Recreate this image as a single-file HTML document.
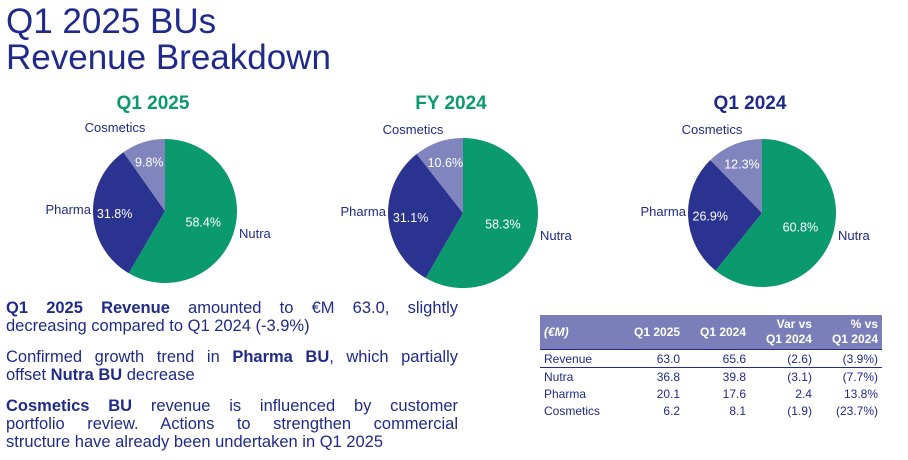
<!DOCTYPE html>
<html><head><meta charset="utf-8"><style>
body{margin:0;width:908px;height:460px;background:#fff;overflow:hidden;font-family:"Liberation Sans","DejaVu Sans",sans-serif;color:#1f2a8c;position:relative}
h1{position:absolute;left:6px;top:4px;margin:0;font-weight:normal;font-size:35px;line-height:36px;color:#1f2a8c}
.p{position:absolute;left:6px;width:452px;font-size:16.5px;line-height:18px;color:#1f2a8c}
.p div{text-align:justify;text-align-last:justify}
.p div:last-child{text-align-last:left}
table{position:absolute;left:540px;top:315px;width:342px;border-collapse:collapse;font-size:12px;color:#1f2a8c}
th{background:#7b7fb9;color:#fff;font-weight:bold;height:34px;text-align:right;padding:0 4px;line-height:15px}
td{text-align:right;padding:0 4px;height:17px}
td:first-child,th:first-child{text-align:left}
</style></head><body>
<h1>Q1 2025 BUs<br>Revenue Breakdown</h1>
<svg id="charts" width="908" height="300" style="position:absolute;left:0;top:0"></svg>
<div class="p" style="top:299px"><div><b>Q1 2025 Revenue</b> amounted to €M 63.0, slightly</div><div>decreasing compared to Q1 2024 (-3.9%)</div></div>
<div class="p" style="top:348px"><div>Confirmed growth trend in <b>Pharma BU</b>, which partially</div><div>offset <b>Nutra BU</b> decrease</div></div>
<div class="p" style="top:397px"><div><b>Cosmetics BU</b> revenue is influenced by customer</div><div>portfolio review. Actions to strengthen commercial</div><div>structure have already been undertaken in Q1 2025</div></div>
<table>
<tr><th style="font-style:italic">(€M)</th><th>Q1 2025</th><th>Q1 2024</th><th>Var vs<br>Q1 2024</th><th>% vs<br>Q1 2024</th></tr>
<tr style="border-top:1px solid #1f2a8c;border-bottom:1px solid #1f2a8c"><td>Revenue</td><td>63.0</td><td>65.6</td><td>(2.6)</td><td>(3.9%)</td></tr>
<tr><td>Nutra</td><td>36.8</td><td>39.8</td><td>(3.1)</td><td>(7.7%)</td></tr>
<tr><td>Pharma</td><td>20.1</td><td>17.6</td><td>2.4</td><td>13.8%</td></tr>
<tr><td>Cosmetics</td><td>6.2</td><td>8.1</td><td>(1.9)</td><td>(23.7%)</td></tr>
</table>
<script>
const titles=["Q1 2025","FY 2024","Q1 2024"];
const segments=["Nutra","Pharma","Cosmetics"];
const nutra=[58.4,58.3,60.8];
const pharma=[31.8,31.1,26.9];
const cosmetics=[9.8,10.6,12.3];
const svg=document.getElementById('charts');
const NS='http://www.w3.org/2000/svg';
const colors=["#0a9a6e","#2b3390","#8085bd"];
const cxs=[165,463,762],cys=[211,213,213],rs=[72,75,74],titleCol=["#0a9a6e","#0a9a6e","#1f2a8c"];
function el(t,a,txt){const e=document.createElementNS(NS,t);for(const k in a)e.setAttribute(k,a[k]);if(txt!=null)e.textContent=txt;svg.appendChild(e);return e;}
titles.forEach((tt,i)=>{
 const cx=cxs[i],cy=cys[i],r=rs[i];
 const tl=el('text',{x:cx-12,y:109,'text-anchor':'middle','font-size':19,'font-weight':'bold',fill:titleCol[i]},tt);
 
 
 const vals=[nutra[i],pharma[i],cosmetics[i]];
 const tot=vals.reduce((a,b)=>a+b,0);
 let a0=0;
 vals.forEach((v,j)=>{
  const a1=a0+v/tot*2*Math.PI;
  const p=(a)=>[cx+r*Math.sin(a),cy-r*Math.cos(a)];
  const [x0,y0]=p(a0),[x1,y1]=p(a1);
  const s=el('path',{d:`M${cx},${cy}L${x0},${y0}A${r},${r} 0 ${a1-a0>Math.PI?1:0} 1 ${x1},${y1}Z`,fill:colors[j]});
  
  
  const am=(a0+a1)/2,lr=j==0?0.55:(j==1?0.7:0.72);
  const lx=cx+r*lr*Math.sin(am),ly=cy-r*lr*Math.cos(am)+5;
  const pl=el('text',{x:lx,y:ly,'text-anchor':'middle','font-size':12.5,fill:'#fff'},v.toFixed(1)+'%');
  
  
  a0=a1;
 });
 const n=el('text',{x:cx+r+2,y:cy+27,'font-size':13,fill:'#1f2a8c'},'Nutra');
 
 
 const ph=el('text',{x:cx-r-2,y:cy+3,'text-anchor':'end','font-size':13,fill:'#1f2a8c'},'Pharma');
 
 
 const c=el('text',{x:cx-50,y:cy-79,'text-anchor':'middle','font-size':13,fill:'#1f2a8c'},'Cosmetics');
 
 
});
</script>
</body></html>
